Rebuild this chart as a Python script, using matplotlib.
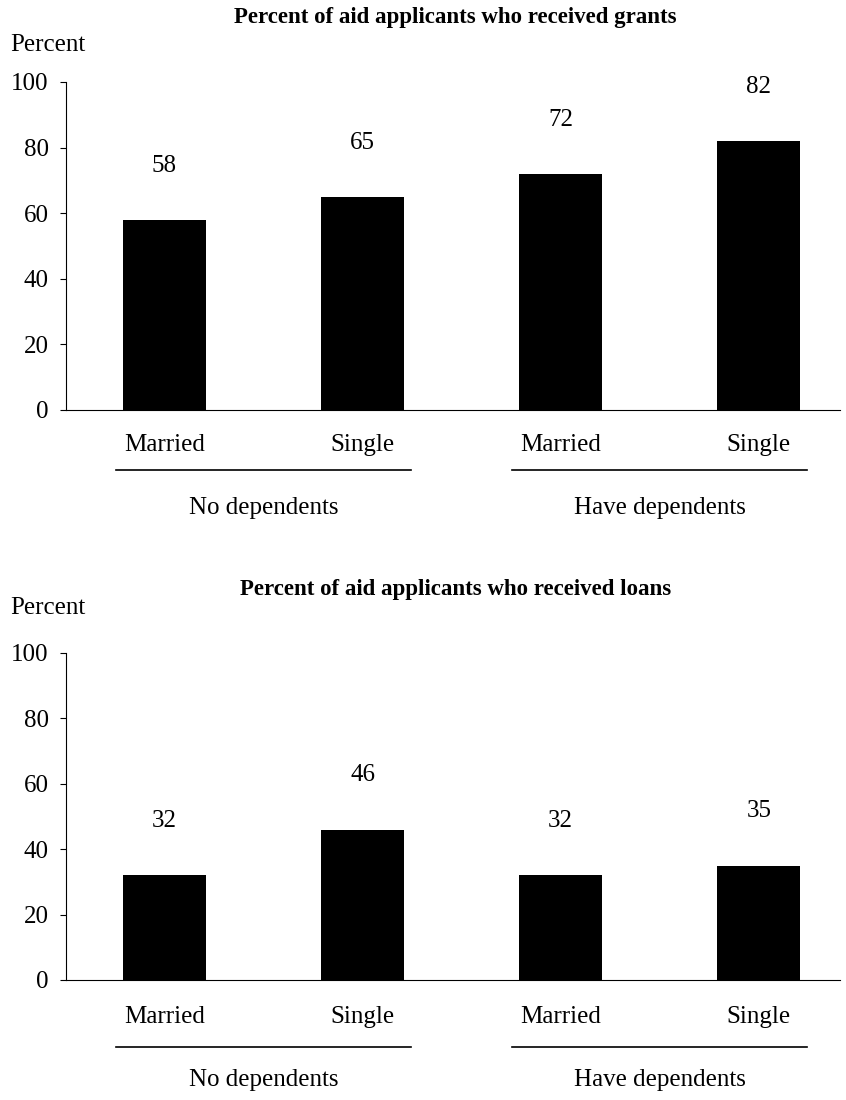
import matplotlib.pyplot as plt
import matplotlib.transforms as mtransforms

plt.rcParams['font.family'] = ['Liberation Serif', 'DejaVu Serif']
plt.rcParams['font.size'] = 18

categories = ["Married", "Single", "Married", "Single"]
groups = ["No dependents", "Have dependents"]
grants = [58, 65, 72, 82]
loans = [32, 46, 32, 35]
titles = ["Percent of aid applicants who received grants",
          "Percent of aid applicants who received loans"]

fig = plt.figure(figsize=(8.46, 11), dpi=100)

# axes boxes in figure fraction: [left, bottom, width, height]
boxes = [[0.078, 0.6273, 0.915, 0.2982], [0.078, 0.1091, 0.915, 0.2973]]
title_y = [1 - 18 / 1100, 1 - 590 / 1100]
percent_y = [1 - 45 / 1100, 1 - 608 / 1100]
label_y = [-0.107, -0.113]
line_y = [-0.183, -0.205]
group_y = [-0.299, -0.306]

x = list(range(len(categories)))

for i, values in enumerate([grants, loans]):
    ax = fig.add_axes(boxes[i])
    ax.bar(x, values, width=0.42, color="black")
    for xi, v in zip(x, values):
        ax.annotate(str(v), (xi, v), xytext=(0, 39), textcoords="offset points",
                    ha="center", va="center")
    ax.set_ylim(0, 100)
    ax.set_xlim(-0.497, 3.41)
    ax.set_yticks([0, 20, 40, 60, 80, 100])
    ax.set_xticks([])
    ax.tick_params(axis="y", direction="out", length=4.5, width=0.8, pad=8)
    ax.spines["top"].set_visible(False)
    ax.spines["right"].set_visible(False)
    ax.spines["left"].set_linewidth(0.8)
    ax.spines["bottom"].set_linewidth(0.8)

    trans = mtransforms.blended_transform_factory(ax.transData, ax.transAxes)
    for xi, c in zip(x, categories):
        ax.text(xi, label_y[i], c, transform=trans, ha="center", va="center")
    for g, (a, b) in zip(groups, [(0, 1), (2, 3)]):
        ax.plot([a - 0.245, b + 0.245], [line_y[i], line_y[i]], color="black",
                lw=1.2, transform=trans, clip_on=False)
        ax.text((a + b) / 2, group_y[i], g, transform=trans, ha="center", va="center")

    fig.text(0.538, title_y[i], titles[i], ha="center", va="center",
             fontweight="bold", fontsize=16.5)
    fig.text(0.012, percent_y[i], "Percent", ha="left", va="center")

fig.savefig("out.png", dpi=100)
